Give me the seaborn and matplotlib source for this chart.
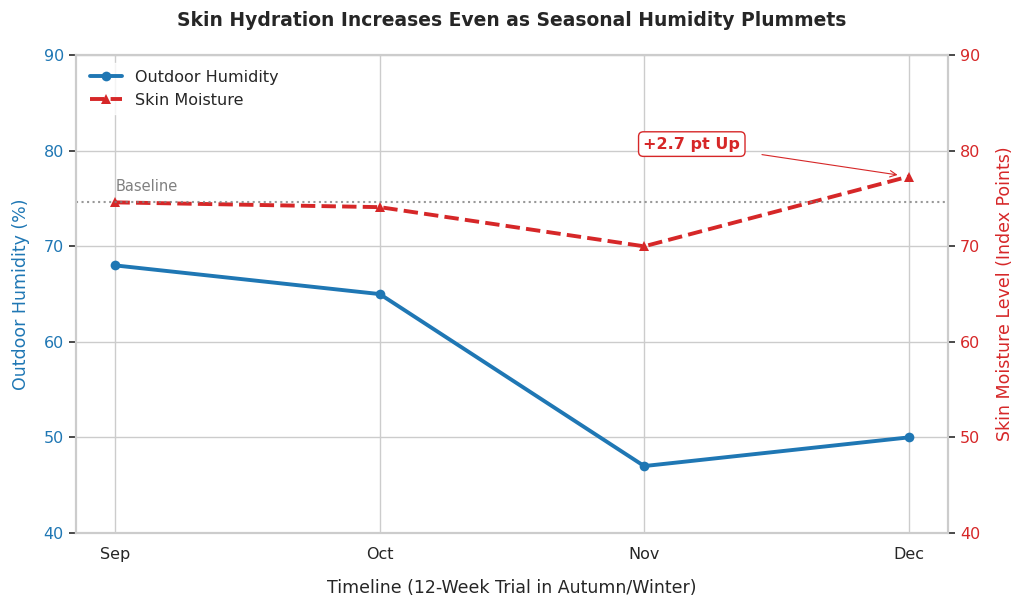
import matplotlib
matplotlib.use('Agg')
import matplotlib.pyplot as plt
import seaborn as sns
import pandas as pd

# 데이터
months = ['Sep', 'Oct', 'Nov', 'Dec']
humidity = [68, 65, 47, 50]
skin = [74.6, 74.1, 70.0, 77.3]
baseline = 74.6

df = pd.DataFrame({'x': range(len(months)), 'humidity': humidity, 'skin': skin})

sns.set_theme(style='whitegrid')
plt.rcParams['font.family'] = ['DejaVu Sans']

blue = '#1f77b4'
red = '#d62728'

fig, ax1 = plt.subplots(figsize=(10.24, 6.07), dpi=100)
ax2 = ax1.twinx()

sns.lineplot(data=df, x='x', y='humidity', ax=ax1, color=blue, marker='o',
             markersize=7, linewidth=2.8, markeredgewidth=0, label='Outdoor Humidity', legend=False)
sns.lineplot(data=df, x='x', y='skin', ax=ax2, color=red, marker='^',
             markersize=7, linewidth=2.8, markeredgewidth=0, linestyle='--',
             label='Skin Moisture', legend=False)

ax2.axhline(baseline, color='gray', linestyle=':', linewidth=1.5, alpha=0.8)
ax2.text(0, baseline + 1.2, 'Baseline', color='gray', fontsize=10.5)

ax2.annotate('+2.7 pt Up', xy=(3, skin[3]), xytext=(2.18, 80.7),
             color=red, fontsize=11.5, fontweight='bold', ha='center', va='center',
             bbox=dict(boxstyle='round,pad=0.3', fc='white', ec=red, lw=1),
             arrowprops=dict(arrowstyle='->', color=red, lw=0.8, shrinkA=12, shrinkB=8))

for ax in (ax1, ax2):
    ax.set_ylim(40, 90)
    ax.set_yticks([40, 50, 60, 70, 80, 90])
ax1.set_xlim(-0.15, 3.15)
ax1.set_xticks(range(len(months)))
ax1.set_xticklabels(months)
ax2.grid(False)

ax1.set_xlabel('Timeline (12-Week Trial in Autumn/Winter)', fontsize=12.5, labelpad=12)
ax1.set_ylabel('Outdoor Humidity (%)', color=blue, fontsize=12.5, labelpad=10)
ax2.set_ylabel('Skin Moisture Level (Index Points)', color=red, fontsize=12.5, labelpad=11)
ax1.tick_params(axis='y', colors=blue, labelsize=11.5, left=True, length=5, color='#333333')
ax2.tick_params(axis='y', colors=red, labelsize=11.5, right=True, length=5, color='#333333')
ax1.tick_params(axis='x', labelsize=11.5, pad=4)
for lab in ax1.get_yticklabels():
    lab.set_color(blue)
for lab in ax2.get_yticklabels():
    lab.set_color(red)

for ax in (ax1, ax2):
    for s in ax.spines.values():
        s.set_color('#cccccc')
        s.set_linewidth(1.5)

h1, l1 = ax1.get_legend_handles_labels()
h2, l2 = ax2.get_legend_handles_labels()
ax2.legend(h1 + h2, l1 + l2, loc='upper left', frameon=True, facecolor='white',
           edgecolor='white', fontsize=11.5)

ax1.set_title('Skin Hydration Increases Even as Seasonal Humidity Plummets',
              fontsize=13.5, fontweight='bold', pad=21)

plt.subplots_adjust(left=0.074, right=0.926, top=0.909, bottom=0.122)
plt.savefig('out.png')
